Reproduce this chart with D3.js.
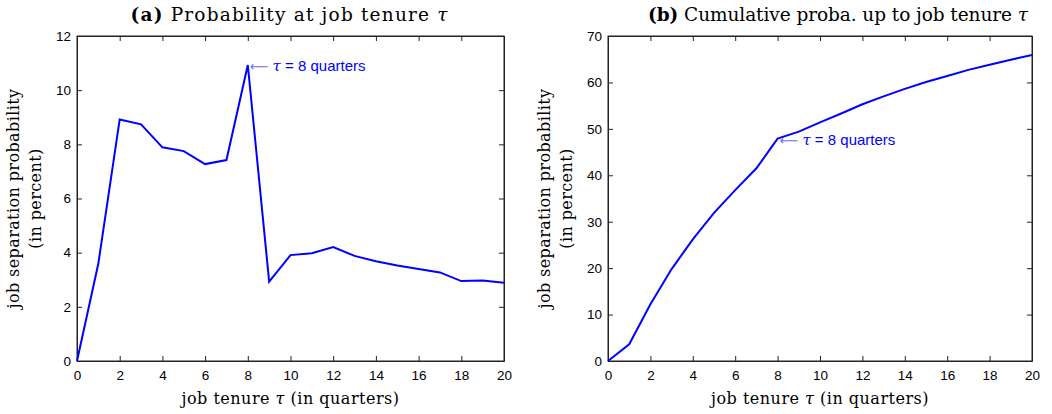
<!DOCTYPE html>
<html><head><meta charset="utf-8">
<script src="https://cdn.jsdelivr.net/npm/d3@7"></script>
<style>
body{margin:0;background:#fff;}
svg text{fill:#000;}
.tick text{font-family:"Liberation Sans",Arial,sans-serif;font-size:13.5px;}
.serif{font-family:"DejaVu Serif","Liberation Serif",serif;}
</style></head>
<body><svg id="c" width="1052" height="414"></svg>
<script>
const tenure = [0,1,2,3,4,5,6,7,8,9,10,11,12,13,14,15,16,17,18,19,20];
const probAt = [0,3.6,8.92,8.74,7.89,7.75,7.27,7.42,10.93,2.93,3.91,3.98,4.21,3.88,3.68,3.53,3.40,3.27,2.95,2.97,2.89];
const probCum = [0,3.6,12.2,19.8,26.2,31.9,36.8,41.5,47.9,49.4,51.4,53.3,55.3,57.0,58.6,60.1,61.4,62.7,63.8,64.9,65.9];
const xTicks = [0,2,4,6,8,10,12,14,16,18,20];
const yTicksA = [0,2,4,6,8,10,12];
const yTicksB = [0,10,20,30,40,50,60,70];
const titleA = ["(a)"," Probability at job tenure ","τ"];
const titleB = ["(b)"," Cumulative proba. up to job tenure ","τ"];
const xLabel = ["job tenure ","τ"," (in quarters)"];
const yLabel1 = "job separation probability";
const yLabel2 = "(in percent)";
const annot = ["⟵ ","τ"," = 8 quarters"];

const svg = d3.select("#c");
function panel(o){
  const g = svg.append("g");
  const x = d3.scaleLinear().domain([0,20]).range([o.x0,o.x1]);
  const y = d3.scaleLinear().domain([0,o.ymax]).range([o.y1,o.y0]);
  const tl = 5;
  g.append("rect").attr("x",o.x0).attr("y",o.y0).attr("width",o.x1-o.x0).attr("height",o.y1-o.y0)
   .attr("fill","none").attr("stroke","#222").attr("stroke-width",1);
  const bx = g.append("g").attr("transform",`translate(0,${o.y1})`)
   .call(d3.axisBottom(x).tickValues(xTicks).tickSizeInner(-tl).tickSizeOuter(0).tickPadding(9));
  const tx = g.append("g").attr("transform",`translate(0,${o.y0})`)
   .call(d3.axisTop(x).tickValues(xTicks).tickSizeInner(-tl).tickSizeOuter(0).tickFormat(""));
  const ly = g.append("g").attr("transform",`translate(${o.x0},0)`)
   .call(d3.axisLeft(y).tickValues(o.yt).tickSizeInner(-tl).tickSizeOuter(0).tickPadding(6));
  const ry = g.append("g").attr("transform",`translate(${o.x1},0)`)
   .call(d3.axisRight(y).tickValues(o.yt).tickSizeInner(-tl).tickSizeOuter(0).tickFormat(""));
  [bx,tx,ly,ry].forEach(a=>{a.select(".domain").attr("stroke","#222");a.selectAll(".tick line").attr("stroke","#222");});
  g.selectAll(".tick text").attr("fill","#000");
  g.append("path").datum(tenure.map((t,i)=>[t,o.vals[i]]))
   .attr("d",d3.line().x(d=>x(d[0])).y(d=>y(d[1])))
   .attr("fill","none").attr("stroke","#0000ff").attr("stroke-width",2).attr("stroke-linejoin","miter");
  const a = g.append("text").attr("x",x(8)+2).attr("y",y(o.vals[8])+6)
   .attr("font-family","Liberation Sans,Arial,sans-serif").attr("font-size",15).style("fill","#0000ff");
  a.append("tspan").style("fill","#6a6aff").attr("font-family","DejaVu Sans").attr("font-size",13).text(annot[0]);
  a.append("tspan").attr("font-family","DejaVu Serif").attr("font-style","italic").text(annot[1]);
  a.append("tspan").text(annot[2]);
  const t = g.append("text").attr("class","serif").attr("x",o.tc).attr("y",21)
   .attr("text-anchor","middle").attr("font-size",18.5)
   .attr("textLength",o.tw).attr("lengthAdjust","spacing");
  t.append("tspan").attr("font-weight","bold").text(o.title[0]);
  t.append("tspan").text(o.title[1]);
  t.append("tspan").attr("font-style","italic").text(o.title[2]);
  const xl = g.append("text").attr("class","serif").attr("x",(o.x0+o.x1)/2).attr("y",404)
   .attr("text-anchor","middle").attr("font-size",16).attr("letter-spacing",0.5);
  xl.append("tspan").text(xLabel[0]);
  xl.append("tspan").attr("font-style","italic").text(xLabel[1]);
  xl.append("tspan").text(xLabel[2]);
  const yc = (o.y0+o.y1)/2;
  g.append("text").attr("class","serif").attr("transform",`translate(${o.x0-58},${yc}) rotate(-90)`)
   .attr("text-anchor","middle").attr("font-size",16).attr("letter-spacing",0.4).text(yLabel1);
  g.append("text").attr("class","serif").attr("transform",`translate(${o.x0-36},${yc}) rotate(-90)`)
   .attr("text-anchor","middle").attr("font-size",16).attr("letter-spacing",0.4).text(yLabel2);
}
panel({x0:77,x1:504,y0:36,y1:361,ymax:12,yt:yTicksA,vals:probAt,title:titleA,tc:289,tw:317});
panel({x0:608,x1:1032,y0:36,y1:361,ymax:70,yt:yTicksB,vals:probCum,title:titleB,tc:838,tw:380});
</script></body></html>
